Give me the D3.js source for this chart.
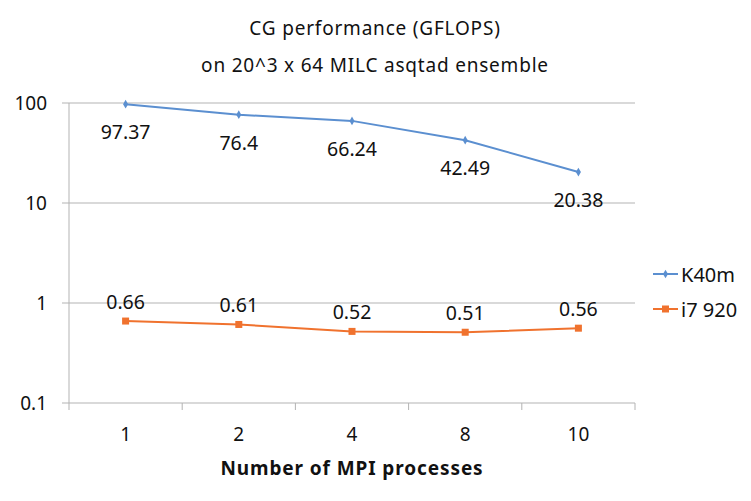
<!DOCTYPE html>
<html><head><meta charset="utf-8">
<script src="https://cdn.jsdelivr.net/npm/d3@7"></script>
<style>body{margin:0;background:#fff}svg{display:block;font-family:"Noto Sans",sans-serif}</style>
</head><body><svg id="c" width="751" height="501"></svg>
<script>
const categories = ["1","2","4","8","10"];
const k40m = [97.37, 76.4, 66.24, 42.49, 20.38];
const i7 = [0.66, 0.61, 0.52, 0.51, 0.56];
const yTicks = [0.1, 1, 10, 100];
const seriesNames = ["K40m", "i7 920"];
const titleLines = ["CG performance (GFLOPS)", "on 20^3 x 64 MILC asqtad ensemble"];
const xTitle = "Number of MPI processes";

const svg = d3.select("#c");
const L = 69, R = 635, T = 103, B = 403;
const x = d3.scaleBand().domain(categories).range([L, R]);
const y = d3.scaleLog().domain([0.1, 100]).range([B, T]);
const blue = "#5B8FD0", orange = "#F0722E";

svg.append("g").selectAll("line").data(yTicks).join("line")
  .attr("x1", L - 7).attr("x2", R).attr("y1", d => y(d)).attr("y2", d => y(d))
  .attr("stroke", "#b3b3b3").attr("stroke-width", 1);
svg.append("line").attr("x1", L).attr("x2", L).attr("y1", T).attr("y2", B + 7)
  .attr("stroke", "#b3b3b3");
const bounds = categories.map(c => x(c)).concat([R]);
svg.append("g").selectAll("line").data(bounds.slice(1)).join("line")
  .attr("x1", d => d).attr("x2", d => d).attr("y1", B).attr("y2", B + 7)
  .attr("stroke", "#b3b3b3");
svg.append("g").selectAll("text").data(yTicks).join("text")
  .attr("x", 47).attr("y", d => y(d) + 7).attr("text-anchor", "end")
  .attr("font-size", 19).attr("fill", "#111").text(d => d);
svg.append("g").selectAll("text").data(categories).join("text")
  .attr("x", d => x(d) + x.bandwidth() / 2).attr("y", 441).attr("text-anchor", "middle")
  .attr("font-size", 19).attr("fill", "#111").text(d => d);
svg.append("g").selectAll("text").data(titleLines).join("text")
  .attr("x", 375).attr("y", (d, i) => 35 + i * 37).attr("text-anchor", "middle")
  .attr("font-size", 19).attr("letter-spacing", 0.8).attr("fill", "#111").text(d => d);
svg.append("text").attr("x", 352).attr("y", 475).attr("text-anchor", "middle")
  .attr("font-size", 19).attr("letter-spacing", 0.9).attr("font-weight", "bold").attr("fill", "#111").text(xTitle);

const line = d3.line().x((d, i) => x(categories[i]) + x.bandwidth() / 2).y(d => y(d));
const cx = i => x(categories[i]) + x.bandwidth() / 2;

svg.append("path").datum(k40m).attr("d", line).attr("fill", "none").attr("stroke", blue).attr("stroke-width", 2);
svg.append("g").selectAll("path").data(k40m).join("path")
  .attr("d", d3.symbol(d3.symbolDiamond, 22)).attr("transform", (d, i) => `translate(${cx(i)},${y(d)})`)
  .attr("fill", blue);
svg.append("g").selectAll("text").data(k40m).join("text")
  .attr("x", (d, i) => cx(i)).attr("y", d => y(d) + 35).attr("text-anchor", "middle")
  .attr("font-size", 19.5).attr("fill", "#111").text(d => d);
svg.append("path").datum(i7).attr("d", line).attr("fill", "none").attr("stroke", orange).attr("stroke-width", 2);
svg.append("g").selectAll("rect").data(i7).join("rect")
  .attr("x", (d, i) => cx(i) - 3.5).attr("y", d => y(d) - 3.5).attr("width", 7).attr("height", 7)
  .attr("fill", orange);
svg.append("g").selectAll("text").data(i7).join("text")
  .attr("x", (d, i) => cx(i)).attr("y", d => y(d) - 12).attr("text-anchor", "middle")
  .attr("font-size", 19.5).attr("fill", "#111").text(d => d);

const lg = svg.append("g");
[blue, orange].forEach((c, i) => {
  const ly = 274 + i * 35;
  lg.append("line").attr("x1", 653).attr("x2", 678).attr("y1", ly).attr("y2", ly).attr("stroke", c).attr("stroke-width", 2);
  if (i === 0) lg.append("path").attr("d", d3.symbol(d3.symbolDiamond, 22)).attr("transform", `translate(665.5,${ly})`).attr("fill", c);
  else lg.append("rect").attr("x", 662).attr("y", ly - 3.5).attr("width", 7).attr("height", 7).attr("fill", c);
  lg.append("text").attr("x", 681).attr("y", ly + 8).attr("font-size", 20).attr("fill", "#111").text(seriesNames[i]);
});
</script></body></html>
